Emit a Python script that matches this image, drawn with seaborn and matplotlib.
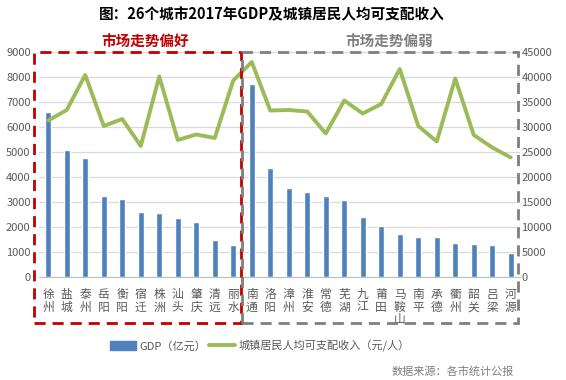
import numpy as np
import pandas as pd
import matplotlib
matplotlib.use("Agg")
import matplotlib.pyplot as plt
import seaborn as sns
from matplotlib.patches import Rectangle, Patch
from matplotlib.lines import Line2D

cities = ["徐州", "盐城", "泰州", "岳阳", "衡阳", "宿迁", "株洲", "汕头", "肇庆", "清远", "丽水",
          "南通", "洛阳", "漳州", "淮安", "常德", "芜湖", "九江", "莆田", "马鞍山", "南平", "承德",
          "衢州", "韶关", "吕梁", "河源"]
gdp = [6606, 5083, 4745, 3258, 3132, 2611, 2580, 2350, 2200, 1500, 1298,
       7734, 4343, 3547, 3387, 3238, 3065, 2413, 2050, 1738, 1620, 1618,
       1380, 1338, 1300, 952]
income = [31300, 33400, 40400, 30200, 31600, 26200, 40100, 27400, 28500, 27800, 39300,
          43000, 33300, 33400, 33100, 28700, 35300, 32700, 34600, 41600, 30200, 27100,
          39700, 28400, 25900, 23900]
n_good = 11

df = pd.DataFrame({"city": cities, "gdp": gdp, "income": income})
df["pos"] = np.arange(len(df))

sns.set_style("white")
plt.rcParams["font.family"] = ["Noto Sans CJK SC", "DejaVu Sans"]
grey = "#595959"

fig = plt.figure(figsize=(5.66, 3.80), dpi=100)
ax = fig.add_axes([39 / 566, 1 - 277 / 380, 481 / 566, 225 / 380])

sns.barplot(data=df, x="pos", y="gdp", color="#4F81BD", width=0.3,
            saturation=1, ax=ax, native_scale=True)
ax.set_xlim(-0.5, len(df) - 0.5)
ax.set_ylim(0, 9000)
ax.set_yticks(range(0, 9001, 1000))
ax.grid(axis="y", color="#D9D9D9", linewidth=0.9)
ax.set_axisbelow(True)
for s in ["top", "right", "left"]:
    ax.spines[s].set_visible(False)
ax.spines["bottom"].set_color("#BFBFBF")
ax.set_xticks(df["pos"])
ax.set_xticklabels(["\n".join(c) for c in cities], fontsize=8.5, color=grey, linespacing=0.95,
                   va="top")
ax.set_xticks(np.arange(-0.5, len(df), 1), minor=True)
ax.tick_params(axis="x", which="major", length=0, pad=8)
ax.tick_params(axis="x", which="minor", length=4, color="#BFBFBF", width=0.8)
ax.tick_params(axis="y", length=0, labelsize=8, labelcolor=grey, pad=6)
ax.set_xlabel("")
ax.set_ylabel("")

ax2 = ax.twinx()
sns.lineplot(data=df, x="pos", y="income", color="#9BBB59", linewidth=2.8, ax=ax2)
ax2.set_ylim(0, 45000)
ax2.set_yticks(range(0, 45001, 5000))
ax2.tick_params(axis="y", length=0, labelsize=8, labelcolor=grey, pad=1)
for s in ax2.spines.values():
    s.set_visible(False)
ax2.set_ylabel("")
ax2.set_xlim(-0.5, len(df) - 0.5)

# dashed group boxes
fig.add_artist(Rectangle((34 / 566, 1 - 323 / 380), 207 / 566, 271 / 380, transform=fig.transFigure,
                         fill=False, edgecolor="#C00000", linewidth=2, linestyle=(0, (4, 2.5))))
fig.add_artist(Rectangle((242 / 566, 1 - 323 / 380), 276 / 566, 271 / 380, transform=fig.transFigure,
                         fill=False, edgecolor="#7F7F7F", linewidth=2, linestyle=(0, (4, 2.5))))
fig.text(145 / 566, 1 - 42 / 380, "市场走势偏好", color="#C00000", fontsize=10.5, fontweight="bold",
         ha="center", va="center")
fig.text(389 / 566, 1 - 42 / 380, "市场走势偏弱", color="#7F7F7F", fontsize=10.5, fontweight="bold",
         ha="center", va="center")

fig.text(272 / 566, 1 - 14 / 380, "图：26个城市2017年GDP及城镇居民人均可支配收入", fontsize=10.5,
         fontweight="bold", ha="center", va="center", color="black")

handles = [Patch(color="#4F81BD"), Line2D([], [], color="#9BBB59", linewidth=2.8)]
fig.legend(handles, ["GDP（亿元）", "城镇居民人均可支配收入（元/人）"], loc="center",
           bbox_to_anchor=(260 / 566, 1 - 346 / 380), ncol=2, frameon=False, fontsize=8,
           labelcolor=grey, handlelength=2.3, handleheight=0.8, columnspacing=0.3, handletextpad=0.3)

fig.text(514 / 566, 1 - 371 / 380, "数据来源：各市统计公报", fontsize=8, color="#7F7F7F",
         ha="right", va="center")

fig.savefig("out.png", dpi=100)
